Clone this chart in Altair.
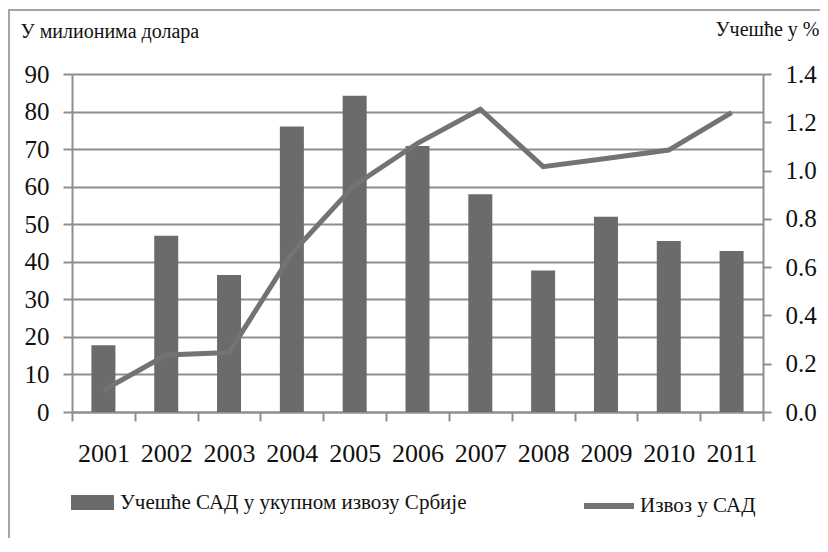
import altair as alt
import pandas as pd

years = ["2001", "2002", "2003", "2004", "2005", "2006", "2007", "2008", "2009", "2010", "2011"]
bar_values = [17.8, 46.9, 36.5, 76.0, 84.2, 70.8, 58.0, 37.7, 52.0, 45.5, 42.9]
line_values = [0.09, 0.236, 0.246, 0.657, 0.94, 1.113, 1.254, 1.016, 1.05, 1.085, 1.24]
left_ticks = [0, 10, 20, 30, 40, 50, 60, 70, 80, 90]
right_ticks = [0.0, 0.2, 0.4, 0.6, 0.8, 1.0, 1.2, 1.4]
bar_label = "Учешће САД у укупном извозу Србије"
line_label = "Извоз у САД"
left_title = "У милионима долара"
right_title = "Учешће у %"

df = pd.DataFrame({
    "year": years,
    "bar": bar_values,
    "line": line_values,
    "bar_series": [bar_label] * len(years),
    "line_series": [line_label] * len(years),
})

FONT = "Liberation Serif, Times New Roman, DejaVu Serif, serif"
GRAY = "#8e8e8e"
TXT = "#111111"
FRAME = "#a6a6a6"

x_enc = alt.X(
    "year:N",
    title=None,
    sort=years,
    scale=alt.Scale(paddingInner=0, paddingOuter=0),
    axis=alt.Axis(
        labelAngle=0, tickBand="extent", ticks=True, tickSize=9, tickWidth=2,
        tickColor=GRAY, domainColor=GRAY, domainWidth=2, labelFontSize=26,
        labelPadding=19, labelFont=FONT, labelColor=TXT, grid=False,
    ),
)

one = alt.Data(values=[{"a": 1}])
frame_top = alt.Chart(one).mark_rule(stroke=FRAME, strokeWidth=2).encode(
    x=alt.value(-64), x2=alt.value(900), y=alt.value(-64)
)
frame_left = alt.Chart(one).mark_rule(stroke=FRAME, strokeWidth=2).encode(
    x=alt.value(-63), y=alt.value(-65), y2=alt.value(700)
)

bars = alt.Chart(df).mark_bar(size=24).encode(
    x=x_enc,
    y=alt.Y(
        "bar:Q",
        scale=alt.Scale(domain=[0, 90]),
        axis=alt.Axis(
            orient="left", values=left_ticks, title=left_title, titleAngle=0,
            titleX=-52, titleY=-37, titleAlign="left", titleBaseline="alphabetic",
            titleFontSize=20, titleFontWeight="normal", titleFont=FONT, titleColor=TXT,
            grid=True, gridColor=GRAY, gridWidth=2, tickSize=9, tickColor=GRAY,
            tickWidth=2, domainColor=GRAY, domainWidth=2, labelFontSize=25,
            labelPadding=14, labelFont=FONT, labelColor=TXT,
        ),
    ),
    fill=alt.Fill(
        "bar_series:N",
        scale=alt.Scale(range=["#6b6b6b"]),
        legend=alt.Legend(
            title=None, orient="none", legendX=-1, legendY=407, padding=0,
            symbolType="M-1,-0.35H1V0.35H-1Z", symbolSize=1849,
            symbolStrokeWidth=0, labelFontSize=21, labelOffset=6,
            labelFont=FONT, labelColor=TXT, labelLimit=600,
        ),
    ),
)

line = alt.Chart(df).mark_line(strokeWidth=5).encode(
    x=x_enc,
    y=alt.Y(
        "line:Q",
        scale=alt.Scale(domain=[0, 1.4]),
        axis=alt.Axis(
            orient="right", values=right_ticks, format=".1f", title=right_title,
            titleAngle=0, titleX=56, titleY=-39, titleAlign="right",
            titleBaseline="alphabetic", titleFontSize=20, titleFontWeight="normal",
            titleFont=FONT, titleColor=TXT, grid=False, tickSize=8, tickColor=GRAY,
            tickWidth=2, domainColor=GRAY, domainWidth=2, labelFontSize=25,
            labelPadding=14, labelFont=FONT, labelColor=TXT,
        ),
    ),
    stroke=alt.Stroke(
        "line_series:N",
        scale=alt.Scale(range=["#737373"]),
        legend=alt.Legend(
            title=None, orient="none", legendX=509, legendY=404, padding=0,
            symbolType="stroke", symbolSize=2500, symbolStrokeWidth=6,
            labelFontSize=21, labelOffset=3, labelFont=FONT, labelColor=TXT,
            labelLimit=600,
        ),
    ),
)

chart = alt.layer(frame_top, frame_left, bars, line).resolve_scale(
    y="independent"
).properties(
    width=691,
    height=338,
    padding={"left": 64, "top": 66, "right": 57, "bottom": 126},
    autosize=alt.AutoSizeParams(type="none"),
).configure_view(stroke=None).configure(font=FONT)

chart.save("out.html", embed_options={"renderer": "svg", "actions": False})
